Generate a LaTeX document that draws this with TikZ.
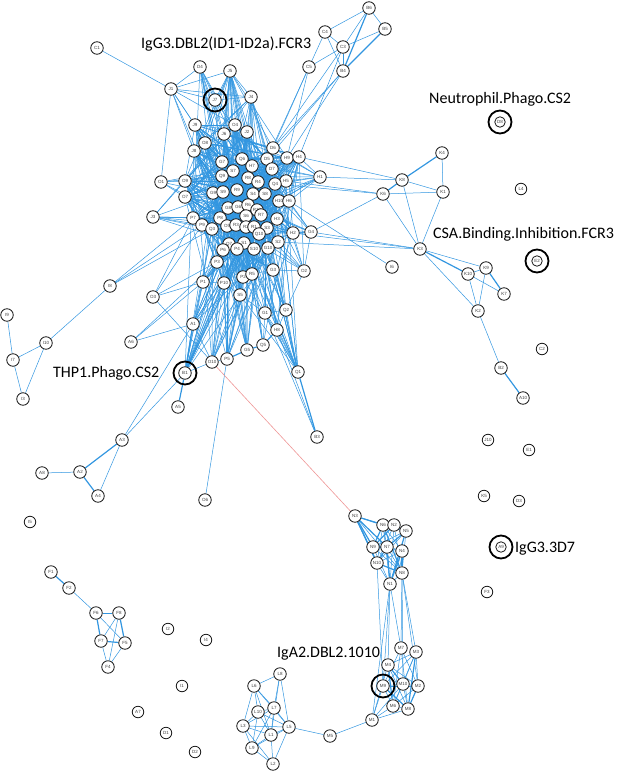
\documentclass[tikz,border=0pt]{standalone}
\usepackage{fontspec}
\setmainfont{Liberation Sans}
\newfontfamily\labfont{Carlito}
\usetikzlibrary{backgrounds}
\definecolor{edgeblue}{RGB}{50,150,224}
\definecolor{edgered}{RGB}{238,150,150}
\def\corelist{J9,O4,J6,J2,O8,J8,D6,Q6,G7,D5,H9,H4,H7,D7,S7,Q9,R8,R4,O9,H5,Q4,O7,G9,S9,R9,S4,S8,H10,H6,G8,G6,R6,R10,R7,S6,H3,P7,P9,P8,Q3,O5,R3,R2,R1,S3,Q10,H2,S2,Q7,S1,P6,P4,S10,G10}
\def\Nlist{N3,N6,N2,N5,N9,N7,N4,N10,N8,N1}
\def\Mlist{M7,M3,M4,M9,M10,M2,M6,M8}
\newcommand\rclique[3]{%
  \foreach \a [count=\i] in #1 {
    \foreach \b [count=\j] in #1 {
      \ifnum\j>\i
        \pgfmathtruncatemacro\dr{rnd<#2}
        \ifnum\dr=1
          \pgfmathtruncatemacro\dw{rnd<#3}
          \ifnum\dw=1 \draw[thk] (\a) -- (\b); \else \draw[edge] (\a) -- (\b); \fi
        \fi
      \fi
    }
  }}
\newcommand\rlink[3]{%
  \foreach \b in #2 {
    \pgfmathtruncatemacro\dr{rnd<#3}
    \ifnum\dr=1 \draw[edge] (#1) -- (\b); \fi
  }}
\begin{document}
\begin{tikzpicture}[x=1pt,y=-1pt,
  nd/.style={circle,draw=black!90,fill=white,line width=0.8pt,minimum size=12.5pt,inner sep=0pt,font=\fontsize{4.5}{5}\selectfont,text=black!75},
  iso/.style={nd,minimum size=11.5pt},
  edge/.style={draw=edgeblue,line width=0.5pt},
  thk/.style={draw=edgeblue,line width=1.2pt},
  redge/.style={draw=edgered,line width=0.6pt},
  ring/.style={draw=black,line width=1.8pt},
  biglab/.style={font=\labfont\fontsize{16}{16}\selectfont,inner sep=0pt,anchor=base west}]
\useasboundingbox (0,0) rectangle (617,771);
% connected nodes
\foreach \n/\x/\y in {
 C1/97/48, D4/200/67, J5/230/71, J1/171/89, J7/215/100, J4/251/97,
 C4/325/32, C3/343/47, C5/309/67, B4/343/71, B6/369/8, B5/385/29,
 J9/195/125, O4/235/125, J6/224/134, J2/247/132, O8/205/143, J8/194/151,
 D6/273/148, Q6/242/159, G7/222/162, D5/267/159, H9/287/158, H4/299/157,
 H7/252/166, D7/272/169, S7/233/171, Q9/222/176, R8/248/178, R4/258/182,
 O9/185/181, H5/286/181, Q4/275/184, O7/185/197, G9/213/193, S9/223/192,
 R9/237/190, S4/253/194, S8/265/194, H10/279/201, H6/289/201, G8/228/208,
 G6/238/207, R6/248/205, R10/257/210, R7/261/215, S6/246/216, H3/277/219,
 P7/193/218, P9/202/225, P8/220/218, Q3/212/229, O5/227/226, R3/236/225,
 R2/246/227, R1/254/227, S3/267/228, Q10/259/234, H2/293/233, S2/278/242,
 Q7/229/244, S1/244/243, P6/223/250, P4/237/249, S10/254/249, G10/268/248,
 P3/217/262, G3/273/270, O2/304/271, P2/243/277, R5/252/274, P1/203/282,
 P10/224/283, S5/240/295, G1/265/313, Q2/286/310, A1/193/324, H8/277/330,
 Q5/263/345, G5/247/350, P5/227/359, O10/212/362, B1/185/373, Q1/298/372,
 B3/317/437, H1/320/177, G4/311/232, O1/161/182, J3/153/217, I8/110/286,
 O3/153/297, A6/131/342, I9/7/315, I10/46/343, I7/13/360, I3/23/399,
 A5/178/407, A3/122/440, A2/80/472, A4/98/496, A8/42/473, O6/205/500,
 K4/442/153, K8/402/180, K1/443/192, K6/383/194, K3/420/249, I6/392/267,
 K9/486/268, K10/468/274, K7/504/294, K2/478/311, B2/501/368, A10/523/398,
 N3/355/516, N6/383/525, N2/394/525, N5/406/531, N9/373/547, N7/387/547,
 N4/402/551, N10/377/563, N8/402/573, N1/390/584,
 M7/401/648, M3/416/652, M4/388/665, M9/383/686, M10/403/684, M2/418/686,
 M6/393/706, M8/408/709, M1/372/720, M5/330/736,
 L8/280/674, L6/254/686, L7/274/708, L10/258/712, L3/243/726, L5/289/727,
 L1/271/735, L9/252/748, L2/273/764,
 F1/51/572, F2/69/588, F6/96/613, F8/119/613, F7/101/641, F5/125/643, F4/108/667}
 \node[nd] (\n) at (\x,\y) {\n};
% isolated nodes
\foreach \n/\x/\y in {L4/521/189, C2/542/349, J10/488/440,
 E1/529/450, K5/484/496, D3/519/501, F3/487/592, I5/30/522,
 I2/168/629, I4/206/640, I1/182/686, A7/138/712, D1/166/733, D2/195/752}
 \node[iso] (\n) at (\x,\y) {\n};
\foreach \n/\x/\y in {D8/500/122, E2/537/261, A9/501/547}
 \node[nd,minimum size=10.5pt] (\n) at (\x,\y) {\n};
% rings
\foreach \n in {J7,B1,M9} \draw[ring] (\n.center) circle[radius=11.5pt];
\foreach \n in {D8,E2,A9} \draw[ring] (\n.center) circle[radius=11.5pt];
% labels
\node[biglab] (t1) at (141,48) {IgG3.DBL2(ID1-ID2a).FCR3};
\node[biglab] (t2) at (429,103) {Neutrophil.Phago.CS2};
\node[biglab] (t3) at (433,238) {CSA.Binding.Inhibition.FCR3};
\node[biglab] (t4) at (53,377) {THP1.Phago.CS2};
\node[biglab] (t5) at (515,552) {IgG3.3D7};
\node[biglab] (t6) at (277,657) {IgA2.DBL2.1010};
\begin{pgfonlayer}{background}
\pgfmathsetseed{4242}
\rclique{\corelist}{0.3}{0.08}
\foreach \o/\p in {J5/0.3, J4/0.28, J7/0.12, D4/0.1, J1/0.05, P3/0.25, G3/0.2,
  O2/0.15, P2/0.3, R5/0.3, P1/0.2, P10/0.25, S5/0.25, G1/0.12, Q2/0.12, A1/0.15,
  H8/0.15, Q5/0.12, G5/0.12, P5/0.18, O10/0.12, B1/0.3, Q1/0.18, H1/0.12,
  O1/0.05, G4/0.15, J3/0.06}
  {\rlink{\o}{\corelist}{\p}}
\rclique{\Nlist}{0.85}{0.35}
\rclique{\Mlist}{0.85}{0.3}
% explicit edges
\foreach \a/\b in {C1/J1, J1/D4, J1/J5, J1/J7, J1/J4, J1/O1, J1/J9, J1/J8,
  D4/J7, J5/J7, J5/J4, J7/J4,
  C4/C5, C4/C3, C4/B6, C3/B6, C3/B5, B6/B5, C3/B4, C5/C3, C4/B4,
  C5/D6, C5/D5, C5/H9, B4/D6, B4/H9, B4/D5, C3/D6, C3/H4,
  H1/K8, H4/K8, H5/K6, Q4/K6, G4/K6, H2/K3, G4/K3, H6/I6, S2/K3,
  K8/K1, K6/K1, K4/K1, K8/K3, K6/K3, K1/K3, K3/K9, K3/K2, K9/K10,
  K10/K7, K9/K2, K10/K2, K2/B2,
  H1/H4, H1/H9, H1/H5, H1/D7, H1/Q4, H1/H10, G4/H2, G4/H6, G4/S3, G4/H3,
  J3/P7, J3/P9, J3/Q3, J3/O9, J3/S9, J3/P8,
  O1/O9, O1/O7, O1/G9, O1/Q9,
  I8/I10, I8/P7, I8/P9, I8/Q3, I10/I7, I10/I3, I7/I9, I7/I3,
  O3/P7, O3/P3, O3/O10, O3/P9, O3/P1, A6/A1, A6/P1, A6/P3,
  A1/P3, A1/P1, A1/P10, A1/O10, B1/A3, A3/A1, A3/A4, A2/A8,
  O6/P5, O10/P5, O10/P10, O10/S5, O10/B1, P5/P10, P5/S5, G5/S5,
  Q5/G1, H8/G1, H8/Q2, H8/Q1, Q1/G1, Q1/Q2, Q1/S5, Q1/P2, Q1/R5,
  B3/H8, B3/G1, P3/P1, P1/P10, P10/S5, S5/P2, P2/R5, R5/G3, G3/O2,
  O2/G4, O2/H2, O2/Q2, G3/Q2, G1/Q2, S5/G1, P3/P10, B1/P3, B1/P1, B1/P10,
  N1/M4, N1/M9, N1/M7, N8/M7, N8/M3, N8/M10, N1/M1, N10/M9, N8/M2,
  M1/M9, M1/M6, M1/M8, M1/M4, M1/M10, M1/M5, M5/L5,
  L8/L6, L8/L7, L8/L5, L8/L1, L6/L10, L6/L3, L6/L7, L6/L5, L6/L1,
  L7/L10, L7/L3, L7/L1, L7/L5, L7/L9, L10/L3, L10/L1, L10/L5, L10/L9,
  L3/L1, L3/L9, L3/L5, L3/L2, L1/L9, L1/L2, L1/L5, L9/L2, L5/L2, L9/L5,
  F2/F6, F6/F8, F6/F5, F8/F7, F7/F4, F5/F4, F8/F4}
  \draw[edge] (\a) -- (\b);
\foreach \a/\b in {B6/B4, B5/B4, K8/K4, K8/K6, K3/K10, K9/K7, B2/A10,
  A1/B1, A5/B1, A3/A2, A2/A4, P5/G5, G5/Q5, Q5/H8, B3/Q1,
  N3/N6, N3/N9, N3/N7, N3/N10, F1/F2, F6/F7, F8/F5, F7/F5}
  \draw[thk] (\a) -- (\b);
\draw[redge] (O10) -- (N3);
\end{pgfonlayer}
\end{tikzpicture}
\end{document}
